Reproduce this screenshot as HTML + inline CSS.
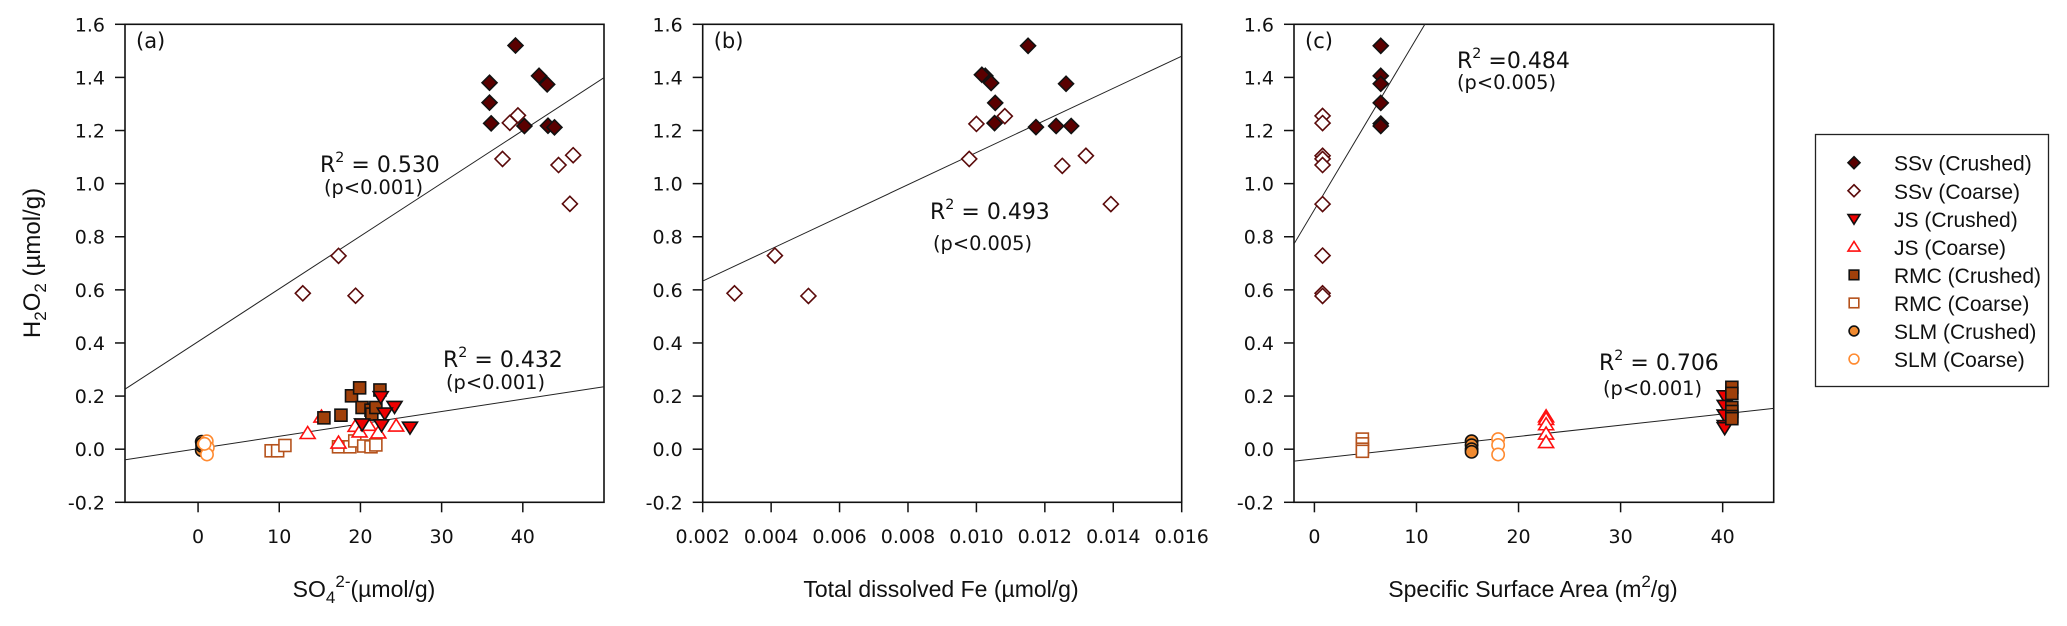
<!DOCTYPE html>
<html><head><meta charset="utf-8">
<style>
html,body{margin:0;padding:0;background:#fff;}
svg{display:block;}
text{font-family:"DejaVu Sans","Liberation Sans",sans-serif;fill:#111;}
.lg{font-family:"Liberation Sans",sans-serif;}
</style></head>
<body>
<svg id="chart" width="2067" height="626" viewBox="0 0 2067 626" xmlns="http://www.w3.org/2000/svg">
  <g id="panels"></g>
  <g>
    <rect x="1815.5" y="134.5" width="233" height="252" fill="#fff" stroke="#222" stroke-width="1.3"/>
    <g id="legend-items"></g>
  </g>
  <text transform="translate(40,263) rotate(-90)" text-anchor="middle" font-size="24" class="lg">H<tspan font-size="17" dy="6">2</tspan><tspan dy="-6">O</tspan><tspan font-size="17" dy="6">2</tspan><tspan dy="-6"> (µmol/g)</tspan></text>
  <text x="364" y="597" text-anchor="middle" font-size="23" class="lg">SO<tspan font-size="17" dy="6">4</tspan><tspan font-size="17" dy="-16">2-</tspan><tspan dy="10">(µmol/g)</tspan></text>
  <text x="941" y="597" text-anchor="middle" font-size="23" class="lg">Total dissolved Fe (µmol/g)</text>
  <text x="1533" y="597" text-anchor="middle" font-size="23" class="lg">Specific Surface Area (m<tspan font-size="17" dy="-10">2</tspan><tspan dy="10">/g)</tspan></text>
</svg>
<script>
// ---- Shared axis data ----
const yTicks = [-0.2, 0.0, 0.2, 0.4, 0.6, 0.8, 1.0, 1.2, 1.4, 1.6];
const yTickLabels = ["-0.2","0.0","0.2","0.4","0.6","0.8","1.0","1.2","1.4","1.6"];
const xTicksA = [0, 10, 20, 30, 40];
const xTickLabelsA = ["0","10","20","30","40"];
const xTicksB = [0.002,0.004,0.006,0.008,0.010,0.012,0.014,0.016];
const xTickLabelsB = ["0.002","0.004","0.006","0.008","0.010","0.012","0.014","0.016"];
const xTicksC = [0, 10, 20, 30, 40];
const xTickLabelsC = ["0","10","20","30","40"];

// ---- Panel (a): SO4 vs H2O2 ----
const aSSvCrushedX = [39.1,35.9,35.9,36.1,42.0,43.0,40.2,43.1,43.9];
const aSSvCrushedY = [1.52,1.38,1.305,1.227,1.406,1.374,1.217,1.218,1.212];
const aSSvCoarseX = [39.4,38.4,37.5,44.4,46.2,45.8,12.9,17.3,19.4];
const aSSvCoarseY = [1.257,1.229,1.093,1.07,1.107,0.924,0.587,0.728,0.578];
const aJSCrushedX = [22.5,24.2,23.0,22.6,26.1,20.2];
const aJSCrushedY = [0.197,0.16,0.135,0.091,0.082,0.094];
const aJSCoarseX = [13.5,15.2,19.4,19.9,21.0,22.2,24.4,17.3];
const aJSCoarseY = [0.06,0.122,0.087,0.066,0.091,0.062,0.088,0.024];
const aRMCCrushedX = [15.5,17.6,18.9,19.9,20.2,21.3,21.4,21.9,22.4];
const aRMCCrushedY = [0.118,0.128,0.201,0.231,0.157,0.147,0.132,0.157,0.223];
const aRMCCoarseX = [9.0,9.8,10.7,17.3,18.7,19.3,20.4,21.3,21.9];
const aRMCCoarseY = [-0.006,-0.006,0.014,0.009,0.009,0.031,0.012,0.009,0.016];
const aSLMCrushedX = [0.45,0.45,0.5,0.5];
const aSLMCrushedY = [0.028,-0.004,0.012,0.02];
const aSLMCoarseX = [1.07,1.2,1.1,0.8];
const aSLMCoarseY = [0.03,0.006,-0.02,0.02];
const aFitUpper = [0.405, 0.01988];   // intercept, slope
const aFitLower = [0.002, 0.00466];

// ---- Panel (b): Fe vs H2O2 ----
const bSSvCrushedX = [0.01151,0.01026,0.01016,0.01043,0.01055,0.01053,0.01174,0.01233,0.01277,0.01262];
const bSSvCrushedY = [1.519,1.406,1.41,1.379,1.304,1.228,1.213,1.217,1.217,1.376];
const bSSvCoarseX = [0.00293,0.00411,0.00509,0.00979,0.0100,0.01083,0.01251,0.0132,0.01393];
const bSSvCoarseY = [0.587,0.729,0.577,1.093,1.225,1.254,1.067,1.105,0.923];
const bFit = [0.512, 60.5];

// ---- Panel (c): SSA vs H2O2 ----
const cSSvCrushedX = [6.5,6.5,6.5,6.5,6.5,6.5];
const cSSvCrushedY = [1.519,1.406,1.376,1.304,1.226,1.217];
const cSSvCoarseX = [0.8,0.8,0.8,0.8,0.8,0.8,0.8,0.8,0.8];
const cSSvCoarseY = [1.255,1.228,1.105,1.093,1.07,0.923,0.729,0.587,0.577];
const cJSCrushedX = [40.2,40.2,40.2,40.2,40.2];
const cJSCrushedY = [0.2,0.164,0.128,0.088,0.08];
const cJSCoarseX = [22.7,22.7,22.7,22.7,22.7];
const cJSCoarseY = [0.123,0.113,0.093,0.058,0.026];
const cRMCCrushedX = [40.9,40.9,40.9,40.9,40.9,40.9];
const cRMCCrushedY = [0.233,0.21,0.157,0.142,0.123,0.115];
const cRMCCoarseX = [4.7,4.7,4.7,4.7];
const cRMCCoarseY = [0.038,0.02,0.0,-0.008];
const cSLMCrushedX = [15.4,15.4,15.4,15.4];
const cSLMCrushedY = [0.03,0.015,0.0,-0.01];
const cSLMCoarseX = [18.0,18.0,18.0];
const cSLMCoarseY = [0.038,0.016,-0.02];
const cFitUpper = [0.902, 0.0645];
const cFitLower = [-0.0365, 0.00423];

// ---- Legend ----
const legendLabels = ["SSv (Crushed)","SSv (Coarse)","JS (Crushed)","JS (Coarse)","RMC (Crushed)","RMC (Coarse)","SLM (Crushed)","SLM (Coarse)"];

const NS = "http://www.w3.org/2000/svg";
const STY = {
  ssvCr: {shape:"diamond", fill:"#5a0000", stroke:"#111"},
  ssvCo: {shape:"diamond", fill:"#fff", stroke:"#5a0a0a"},
  jsCr:  {shape:"down", fill:"#ee0000", stroke:"#111"},
  jsCo:  {shape:"up", fill:"#fff", stroke:"#ff1010"},
  rmcCr: {shape:"square", fill:"#a0400a", stroke:"#111"},
  rmcCo: {shape:"square", fill:"#fff", stroke:"#b5521c"},
  slmCr: {shape:"circle", fill:"#f08a30", stroke:"#111"},
  slmCo: {shape:"circle", fill:"#fff", stroke:"#ff8a30"}
};
const legendStyles = ["ssvCr","ssvCo","jsCr","jsCo","rmcCr","rmcCo","slmCr","slmCo"];

function mk(tag, attrs, parent){
  const e = document.createElementNS(NS, tag);
  for (const k in attrs) e.setAttribute(k, attrs[k]);
  parent.appendChild(e);
  return e;
}
function marker(parent, cx, cy, st, s, name){
  let e;
  const sw = 1.6;
  if (st.shape === "diamond") {
    e = mk("polygon", {points:`${cx},${cy-s} ${cx+s},${cy} ${cx},${cy+s} ${cx-s},${cy}`, fill:st.fill, stroke:st.stroke, "stroke-width":sw}, parent);
  } else if (st.shape === "square") {
    const h = s*0.8;
    e = mk("rect", {x:cx-h, y:cy-h, width:2*h, height:2*h, fill:st.fill, stroke:st.stroke, "stroke-width":sw}, parent);
  } else if (st.shape === "circle") {
    e = mk("circle", {cx:cx, cy:cy, r:s*0.82, fill:st.fill, stroke:st.stroke, "stroke-width":sw}, parent);
  } else if (st.shape === "down") {
    e = mk("polygon", {points:`${cx-s},${cy-s*0.7} ${cx+s},${cy-s*0.7} ${cx},${cy+s*0.9}`, fill:st.fill, stroke:st.stroke, "stroke-width":sw}, parent);
  } else {
    e = mk("polygon", {points:`${cx-s},${cy+s*0.7} ${cx+s},${cy+s*0.7} ${cx},${cy-s*0.9}`, fill:st.fill, stroke:st.stroke, "stroke-width":sw}, parent);
  }
  
  
  return e;
}

const Y0 = 24.3, Y1 = 502.3;
function yScale(v){ return Y1 - (v - (-0.2)) / 1.8 * (Y1 - Y0); }

function panel(cfg){
  const root = document.getElementById("panels");
  const g = mk("g", {}, root);
  
  
  const xs = v => cfg.px0 + (v - cfg.xmin) / (cfg.xmax - cfg.xmin) * (cfg.px1 - cfg.px0);
  const clipId = "clip" + cfg.id;
  const defs = mk("defs", {}, g);
  const cp = mk("clipPath", {id:clipId}, defs);
  mk("rect", {x:cfg.px0, y:Y0, width:cfg.px1-cfg.px0, height:Y1-Y0}, cp);
  const fr = mk("rect", {x:cfg.px0, y:Y0, width:cfg.px1-cfg.px0, height:Y1-Y0, fill:"none", stroke:"#111", "stroke-width":1.6}, g);
  
  
  const yg = mk("g", {}, g);
  
  
  yTicks.forEach((t, i) => {
    const y = yScale(t);
    mk("line", {x1:cfg.px0-10, x2:cfg.px0, y1:y, y2:y, stroke:"#111", "stroke-width":1.5}, yg);
    const tx = mk("text", {x:cfg.px0-20, y:y+7, "text-anchor":"end", "font-size":19}, yg);
    tx.textContent = yTickLabels[i];
    
    
  });
  const xg = mk("g", {}, g);
  
  
  cfg.xticks.forEach((t, i) => {
    const x = xs(t);
    mk("line", {x1:x, x2:x, y1:Y1, y2:Y1+10, stroke:"#111", "stroke-width":1.5}, xg);
    const tx = mk("text", {x:x, y:543, "text-anchor":"middle", "font-size":19}, xg);
    tx.textContent = cfg.xlabels[i];
    
    
  });
  const lg = mk("g", {"clip-path":`url(#${clipId})`}, g);
  cfg.fits.forEach((f, i) => {
    const l = mk("line", {x1:xs(cfg.xmin), y1:yScale(f[0]+f[1]*cfg.xmin), x2:xs(cfg.xmax), y2:yScale(f[0]+f[1]*cfg.xmax), stroke:"#222", "stroke-width":1}, lg);
    
    
  });
  cfg.series.forEach(s => {
    const sg = mk("g", {}, g);
    
    
    s.x.forEach((xv, i) => {
      marker(sg, xs(xv), yScale(s.y[i]), STY[s.st], 7.5, 'point-' + s.name);
    });
  });
  const pl = mk("text", {x:cfg.px0+11, y:48, "font-size":21, fill:"#444"}, g);
  pl.textContent = "(" + cfg.id + ")";
  
  
  cfg.notes.forEach(n => {
    const t1 = mk("text", {x:n.x, y:n.y, "font-size":n.fs}, g);
    t1.innerHTML = 'R<tspan font-size="' + (n.fs*0.65) + '" dy="-10">2</tspan><tspan dy="10">' + n.r + '</tspan>';
    
    
    const t2 = mk("text", {x:n.x+n.dx, y:n.y2, "font-size":n.fs*0.88}, g);
    t2.textContent = n.p;
    
    
  });
}

panel({id:"a", px0:125, px1:604, xmin:-9, xmax:50, xticks:xTicksA, xlabels:xTickLabelsA,
  fits:[aFitUpper, aFitLower],
  series:[
    {name:"ssv-coarse", st:"ssvCo", x:aSSvCoarseX, y:aSSvCoarseY},
    {name:"ssv-crushed", st:"ssvCr", x:aSSvCrushedX, y:aSSvCrushedY},
    {name:"rmc-coarse", st:"rmcCo", x:aRMCCoarseX, y:aRMCCoarseY},
    {name:"js-coarse", st:"jsCo", x:aJSCoarseX, y:aJSCoarseY},
    {name:"rmc-crushed", st:"rmcCr", x:aRMCCrushedX, y:aRMCCrushedY},
    {name:"js-crushed", st:"jsCr", x:aJSCrushedX, y:aJSCrushedY},
    {name:"slm-crushed", st:"slmCr", x:aSLMCrushedX, y:aSLMCrushedY},
    {name:"slm-coarse", st:"slmCo", x:aSLMCoarseX, y:aSLMCoarseY}
  ],
  notes:[{x:320,y:172,y2:194,dx:4,fs:22,r:" = 0.530",p:"(p<0.001)"},
         {x:443,y:367,y2:389,dx:3,fs:22,r:" = 0.432",p:"(p<0.001)"}]
});
panel({id:"b", px0:702.7, px1:1181.7, xmin:0.002, xmax:0.016, xticks:xTicksB, xlabels:xTickLabelsB,
  fits:[bFit],
  series:[
    {name:"ssv-coarse", st:"ssvCo", x:bSSvCoarseX, y:bSSvCoarseY},
    {name:"ssv-crushed", st:"ssvCr", x:bSSvCrushedX, y:bSSvCrushedY}
  ],
  notes:[{x:930,y:219,y2:250,dx:3,fs:22,r:" = 0.493",p:"(p<0.005)"}]
});
panel({id:"c", px0:1294, px1:1773.7, xmin:-2, xmax:45, xticks:xTicksC, xlabels:xTickLabelsC,
  fits:[cFitUpper, cFitLower],
  series:[
    {name:"ssv-coarse", st:"ssvCo", x:cSSvCoarseX, y:cSSvCoarseY},
    {name:"ssv-crushed", st:"ssvCr", x:cSSvCrushedX, y:cSSvCrushedY},
    {name:"rmc-coarse", st:"rmcCo", x:cRMCCoarseX, y:cRMCCoarseY},
    {name:"slm-crushed", st:"slmCr", x:cSLMCrushedX, y:cSLMCrushedY},
    {name:"slm-coarse", st:"slmCo", x:cSLMCoarseX, y:cSLMCoarseY},
    {name:"js-coarse", st:"jsCo", x:cJSCoarseX, y:cJSCoarseY},
    {name:"js-crushed", st:"jsCr", x:cJSCrushedX, y:cJSCrushedY},
    {name:"rmc-crushed", st:"rmcCr", x:cRMCCrushedX, y:cRMCCrushedY}
  ],
  notes:[{x:1457,y:68,y2:89,dx:0,fs:22,r:" =0.484",p:"(p<0.005)"},
         {x:1599,y:370,y2:395,dx:4,fs:22,r:" = 0.706",p:"(p<0.001)"}]
});

const li = document.getElementById("legend-items");
legendLabels.forEach((lab, i) => {
  const y = 162.7 + i*28.05;
  const g = mk("g", {}, li);
  
  
  marker(g, 1854, y, STY[legendStyles[i]], 6, 'legend-marker');
  const t = mk("text", {x:1894, y:y+8, "font-size":21, class:"lg"}, g);
  t.textContent = lab;
  
  
});
</script>
</body></html>
